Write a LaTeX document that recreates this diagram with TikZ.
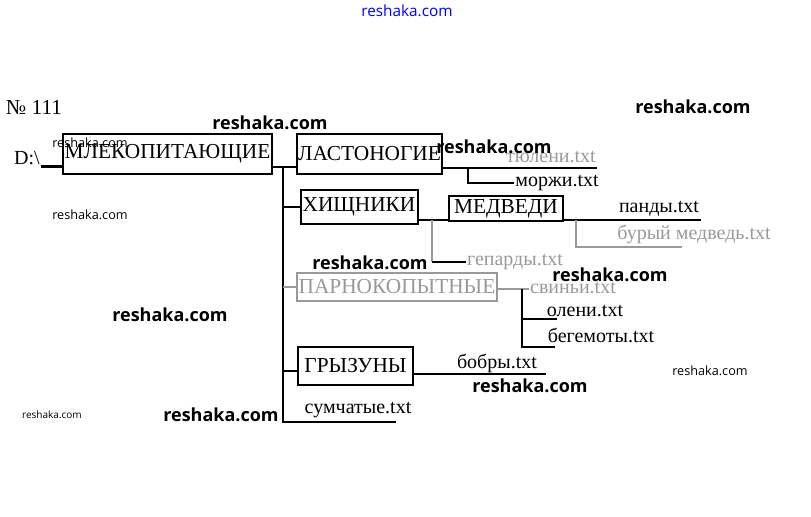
\documentclass[tikz,border=0pt]{standalone}
\usepackage{fontspec}
\setmainfont{Liberation Serif}
\newfontfamily\wmfont{Open Sans}
\tikzset{every picture/.style={line width=0.75pt}}
\tikzset{
  dirbox/.style={draw, fill=white, line width=1.5pt, inner sep=0pt, font=\fontsize{16}{18}\selectfont},
  filetxt/.style={inner sep=0.75pt, font=\fontsize{15}{17}\selectfont},
  wire/.style={line width=2.2pt},
  faded/.style={color=black!40},
  wmark/.style={inner sep=0pt, font=\wmfont\bfseries\fontsize{13.5}{16}\selectfont},
  wmsmall/.style={wmark, font=\wmfont\fontsize{9.5}{11}\selectfont}
}

\begin{document}
\begin{tikzpicture}[x=0.75pt,y=0.75pt,yscale=-1,xscale=1]
\useasboundingbox (0,0) rectangle (811,517);

% Text Node
\node (num) at (34,107) [inner sep=0.75pt, font=\fontsize{16}{18}\selectfont] {№ 111};
% Text Node
\node (drive) at (27,158) [inner sep=0.75pt, font=\fontsize{15}{17}\selectfont] {D:\textbackslash};

%Straight Lines: trunk and folder lines, drawn under the boxes
\coordinate (trunk) at (283,167);
\coordinate (trunkend) at (283,422);
\coordinate (sumend) at (396,422);
\coordinate (tulend) at (597,168);
\coordinate (lastfork) at (468,168);
\coordinate (pandend) at (701,220);
\coordinate (hfork) at (432,220);
\coordinate (mfork) at (576,220);
\coordinate (burend) at (682,247);
\coordinate (pfork) at (522,289);
\coordinate (olenend) at (557,319);
\coordinate (begend) at (555,347);
\coordinate (bobend) at (546,374);

%Shape: Rectangle (folders)
\node (mlek) at (167.5,154) [dirbox, minimum width=156.75pt, minimum height=30pt] {МЛЕКОПИТАЮЩИЕ};
\node (last) at (369.5,154) [dirbox, minimum width=108.75pt, minimum height=30pt] {ЛАСТОНОГИЕ};
\node (hisch) at (359,207) [dirbox, minimum width=87.75pt, minimum height=25.5pt] {ХИЩНИКИ};
\node (parn) at (397,287) [dirbox, draw=black!40, text=black!40, minimum width=150pt, minimum height=21pt] {ПАРНОКОПЫТНЫЕ};
\node (gryz) at (355.5,366) [dirbox, minimum width=86.25pt, minimum height=28.5pt] {ГРЫЗУНЫ};

% Text Node (files)
\node (tul) at (551,157) [filetxt, faded] {тюлени.txt};
\node (morzh) at (557,183) [filetxt] {моржи.txt};
\node (pand) at (659,209) [filetxt] {панды.txt};
\node (bur) at (694,234) [filetxt, faded] {бурый медведь.txt};
\node (gep) at (515,262) [filetxt, faded] {гепарды.txt};
\node (svin) at (573,288) [filetxt, faded] {свиньи.txt};
\node (olen) at (585,311) [filetxt] {олени.txt};
\node (beg) at (601,335) [filetxt] {бегемоты.txt};
\node (bob) at (497,363) [filetxt] {бобры.txt};
\node (sum) at (358,410) [filetxt] {сумчатые.txt};

%Straight Lines
\draw [wire] (drive.south east) -- (drive.south east -| mlek.west);
\draw [wire] (mlek.east |- trunk) -- (last.west |- trunk);
\draw [wire] (trunk) -- (trunkend) -- (sumend);
\draw [wire] (trunk |- hisch) -- (hisch.west);
\draw [wire, faded] (trunk |- parn) -- (parn.west);
\draw [wire] (trunk |- 0,371) -- (gryz.west |- 0,371);
% ЛАСТОНОГИЕ
\draw [wire] (last.east |- tulend) -- (tulend);
\draw [wire] (lastfork) |- (morzh.west);
% ХИЩНИКИ
\draw [wire] (hisch.east |- pandend) -- (pandend);
\draw [wire, faded] (hfork) -- (hfork |- gep.west);
\draw [wire] (hfork |- gep.west) -- (gep.west);
\draw [wire, faded] (mfork) |- (burend);
% ПАРНОКОПЫТНЫЕ
\draw [wire, faded] (parn.east |- pfork) -- (svin.west |- pfork);
\draw [wire] (pfork) -- (pfork |- begend) -- (begend);
\draw [wire] (pfork |- olenend) -- (olenend);
% ГРЫЗУНЫ
\draw [wire] (gryz.east |- bobend) -- (bobend);

% МЕДВЕДИ (on the line)
\node (medv) at (506,208.5) [dirbox, minimum width=85.5pt, minimum height=18.75pt] {МЕДВЕДИ};

% Text Node (watermarks)
\node (wm1) at (407,11) [wmark, text=blue, font=\wmfont\fontsize{11.5}{13}\selectfont] {reshaka.com};
\node (wm2) at (270,123) [wmark] {reshaka.com};
\node (wm3) at (693,107) [wmark] {reshaka.com};
\node (wm4) at (90,143) [wmsmall] {reshaka.com};
\node (wm5) at (494,147) [wmark] {reshaka.com};
\node (wm6) at (90,215) [wmsmall] {reshaka.com};
\node (wm7) at (370,263) [wmark] {reshaka.com};
\node (wm8) at (610,275) [wmark] {reshaka.com};
\node (wm9) at (170,315) [wmark] {reshaka.com};
\node (wm10) at (710,371) [wmsmall] {reshaka.com};
\node (wm11) at (530,386) [wmark] {reshaka.com};
\node (wm12) at (52,415) [wmark, font=\wmfont\fontsize{7.5}{9}\selectfont] {reshaka.com};
\node (wm13) at (221,415) [wmark] {reshaka.com};

\end{tikzpicture}
\end{document}
